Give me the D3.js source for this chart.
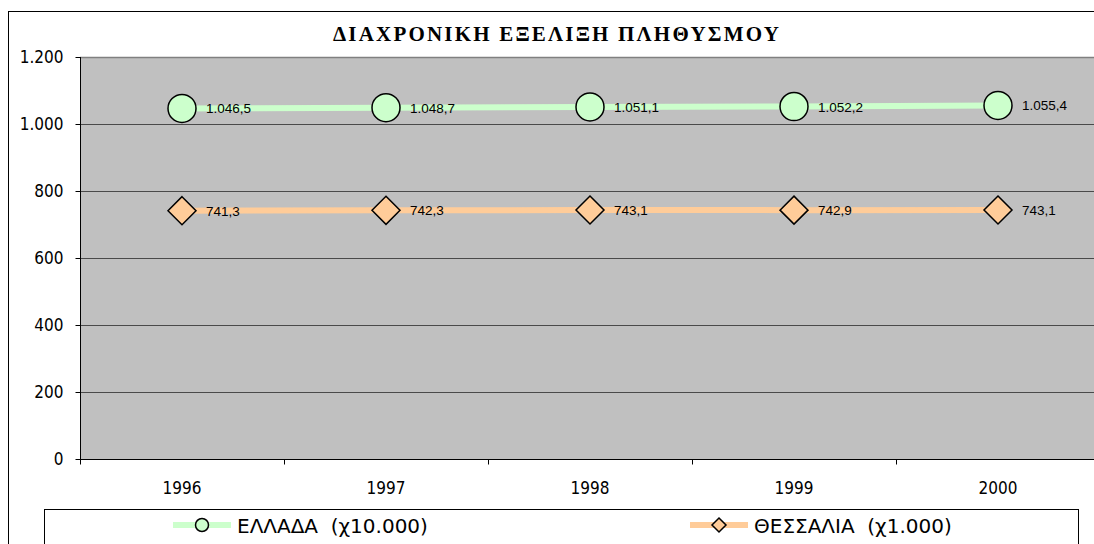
<!DOCTYPE html>
<html>
<head>
<meta charset="utf-8">
<script src="https://cdn.jsdelivr.net/npm/d3@7"></script>
<style>
  body { margin: 0; background: #fff; }
  svg { display: block; }
</style>
</head>
<body>
<div id="chart"></div>
<script>
// chart data
var years = ['1996', '1997', '1998', '1999', '2000'];
var greece = [1046.5, 1048.7, 1051.1, 1052.2, 1055.4];   // x10.000
var thessaly = [741.3, 742.3, 743.1, 742.9, 743.1];     // x1.000
var yTicks = [0, 200, 400, 600, 800, 1000, 1200];
var seriesNames = ['ΕΛΛΑΔΑ\u00a0\u00a0(χ10.000)', 'ΘΕΣΣΑΛΙΑ\u00a0\u00a0(χ1.000)'];
var title = 'ΔΙΑΧΡΟΝΙΚΗ ΕΞΕΛΙΞΗ ΠΛΗΘΥΣΜΟΥ';

var W = 1094, H = 544;
var plot = {left: 80, top: 57, right: 1100, bottom: 459};

// greek number format: 1.046,5
var gr = d3.formatLocale({decimal: ',', thousands: '.', grouping: [3], currency: ['', '€']});
var fmtTick = gr.format(',d'), fmtVal = gr.format(',.1f');

var tickFont = '"DejaVu Sans Condensed", "DejaVu Sans", Tahoma, sans-serif';
var labelFont = '"Liberation Sans", Arial, sans-serif';

var svg = d3.select('#chart').append('svg')
  .attr('width', W).attr('height', H);

// outer frame
svg.append('rect')
  .attr('x', 8.5).attr('y', 11.5)
  .attr('width', 1100).attr('height', 560)
  .style('fill', '#fff').style('stroke', '#000').style('stroke-width', 1);

svg.append('text')
  .attr('x', 557).attr('y', 41)
  .attr('text-anchor', 'middle')
  .style('font-family', '"Liberation Serif", "DejaVu Serif", serif')
  .style('font-weight', 'bold').style('font-size', '21px')
  .style('letter-spacing', '2.2px')
  .text(title);

var x = d3.scaleBand().domain(years).range([plot.left, plot.right]);
var y = d3.scaleLinear().domain([0, 1200]).range([plot.bottom, plot.top]);

// plot area
svg.append('rect')
  .attr('x', plot.left).attr('y', plot.top)
  .attr('width', plot.right - plot.left).attr('height', plot.bottom - plot.top)
  .style('fill', '#c0c0c0');
svg.append('line')
  .attr('x1', plot.left).attr('x2', plot.right)
  .attr('y1', plot.top + 0.5).attr('y2', plot.top + 0.5)
  .style('stroke', '#808080').style('stroke-width', 1.5);

// gridlines
svg.append('g').selectAll('line')
  .data(yTicks.filter(function(d) { return d > 0 && d < 1200; }))
  .enter().append('line')
  .attr('x1', plot.left).attr('x2', plot.right)
  .attr('y1', function(d) { return Math.round(y(d)) + 0.5; })
  .attr('y2', function(d) { return Math.round(y(d)) + 0.5; })
  .style('stroke', '#4a4a4a').style('stroke-width', 1);

// y axis
var yAxis = svg.append('g')
  .attr('transform', 'translate(' + (plot.left + 0.5) + ',0)')
  .call(d3.axisLeft(y).tickValues(yTicks).tickFormat(fmtTick).tickSize(5).tickPadding(12));
yAxis.select('.domain').attr('d', 'M0,' + plot.top + 'V' + plot.bottom);
yAxis.attr('font-family', tickFont).attr('font-size', 17);
yAxis.selectAll('text').attr('fill', '#000');

// x axis, ticks between categories
var xAxis = svg.append('g')
  .attr('transform', 'translate(0,' + (plot.bottom + 0.5) + ')');
xAxis.append('line')
  .attr('x1', plot.left).attr('x2', plot.right)
  .style('stroke', '#000');
xAxis.selectAll('.tk')
  .data(years.concat(['end']))
  .enter().append('line')
  .attr('x1', function(d, i) { return Math.round(plot.left + i * x.bandwidth()) + 0.5; })
  .attr('x2', function(d, i) { return Math.round(plot.left + i * x.bandwidth()) + 0.5; })
  .attr('y1', 0).attr('y2', 5)
  .style('stroke', '#000');
xAxis.selectAll('.lbl')
  .data(years)
  .enter().append('text')
  .attr('x', function(d) { return x(d) + x.bandwidth() / 2; })
  .attr('y', 34)
  .attr('text-anchor', 'middle')
  .style('font-family', tickFont).style('font-size', '17px')
  .text(function(d) { return d; });

var series = [
  {name: seriesNames[0], values: greece, color: '#ccffcc', shape: 'circle'},
  {name: seriesNames[1], values: thessaly, color: '#ffcc99', shape: 'diamond'}
];

var line = d3.line()
  .x(function(d, i) { return x(years[i]) + x.bandwidth() / 2; })
  .y(function(d) { return y(d); });

function marker(g, shape, color, size) {
  if (shape === 'circle') {
    g.append('circle').attr('r', size)
      .style('fill', color).style('stroke', '#000').style('stroke-width', 1.5);
  } else {
    g.append('path')
      .attr('d', 'M0,' + (-size) + 'L' + size + ',0L0,' + size + 'L' + (-size) + ',0Z')
      .style('fill', color).style('stroke', '#000').style('stroke-width', 1.5);
  }
}

series.forEach(function(s) {
  svg.append('path')
    .datum(s.values)
    .attr('d', line)
    .style('fill', 'none').style('stroke', s.color).style('stroke-width', 6);
  var pts = svg.append('g').selectAll('g')
    .data(s.values)
    .enter().append('g')
    .attr('transform', function(d, i) {
      return 'translate(' + (x(years[i]) + x.bandwidth() / 2) + ',' + y(d) + ')';
    });
  pts.each(function() { marker(d3.select(this), s.shape, s.color, 14); });
  pts.append('text')
    .attr('x', 24).attr('y', 5)
    .style('font-family', labelFont).style('font-size', '13.5px')
    .text(function(d) { return fmtVal(d); });
});

// legend
svg.append('rect')
  .attr('x', 44.5).attr('y', 509.5)
  .attr('width', 1034).attr('height', 60)
  .style('fill', '#fff').style('stroke', '#000');
var legX = [173, 690];
series.forEach(function(s, i) {
  var g = svg.append('g').attr('transform', 'translate(' + legX[i] + ',525)');
  g.append('line').attr('x1', 0).attr('x2', 58)
    .style('stroke', s.color).style('stroke-width', 6);
  var m = g.append('g').attr('transform', 'translate(29,0)');
  marker(m, s.shape, s.color, s.shape === 'circle' ? 6.5 : 7);
  g.append('text')
    .attr('x', 64).attr('y', 8)
    .style('font-family', '"DejaVu Sans", Tahoma, sans-serif').style('font-size', '20px')
    .text(s.name);
});
</script>
</body>
</html>
